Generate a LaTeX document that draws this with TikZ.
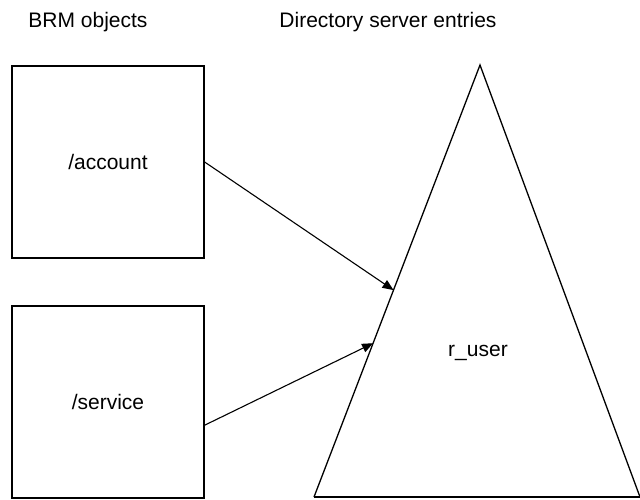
\documentclass[tikz,border=0pt]{standalone}
\usepackage{fontspec}
\setmainfont{Liberation Sans}
\usetikzlibrary{arrows.meta,calc}
\begin{document}
\begin{tikzpicture}[x=1pt,y=-1pt,
  box/.style={draw=black,line width=1.3pt,minimum width=192pt,minimum height=192pt,inner sep=0pt,font=\fontsize{21}{24}\selectfont},
  lbl/.style={font=\fontsize{21}{24}\selectfont,inner sep=0pt},
  conn/.style={draw=black,line width=1.1pt,-{Triangle[length=11pt,width=9pt]}},
  tri/.style={draw=black,line width=1.3pt}]
\useasboundingbox (0,0) rectangle (640,499);
\node[lbl] (h1) at (88,22) {BRM objects};
\node[lbl] (h2) at (388,22) {Directory server entries};
\node[box] (b1) at (108,162) {/account};
\node[box] (b2) at (108,402) {/service};
\coordinate (apex) at (480,65);
\coordinate (bl) at (314,497);
\coordinate (br) at (640,497);
\draw[tri] (bl) -- (apex) -- (br);
\draw[tri] (bl) -- (br);
\node[lbl] (ru) at (478,353) {r\_user};
\coordinate (e1) at ($(apex)!0.521!(bl)$);
\coordinate (e2) at ($(apex)!0.644!(bl)$);
\coordinate (s2) at ($(b2.north east)!0.62!(b2.south east)$);
\draw[conn] (b1.east) -- (e1);
\draw[conn] (s2) -- (e2);
\end{tikzpicture}
\end{document}
